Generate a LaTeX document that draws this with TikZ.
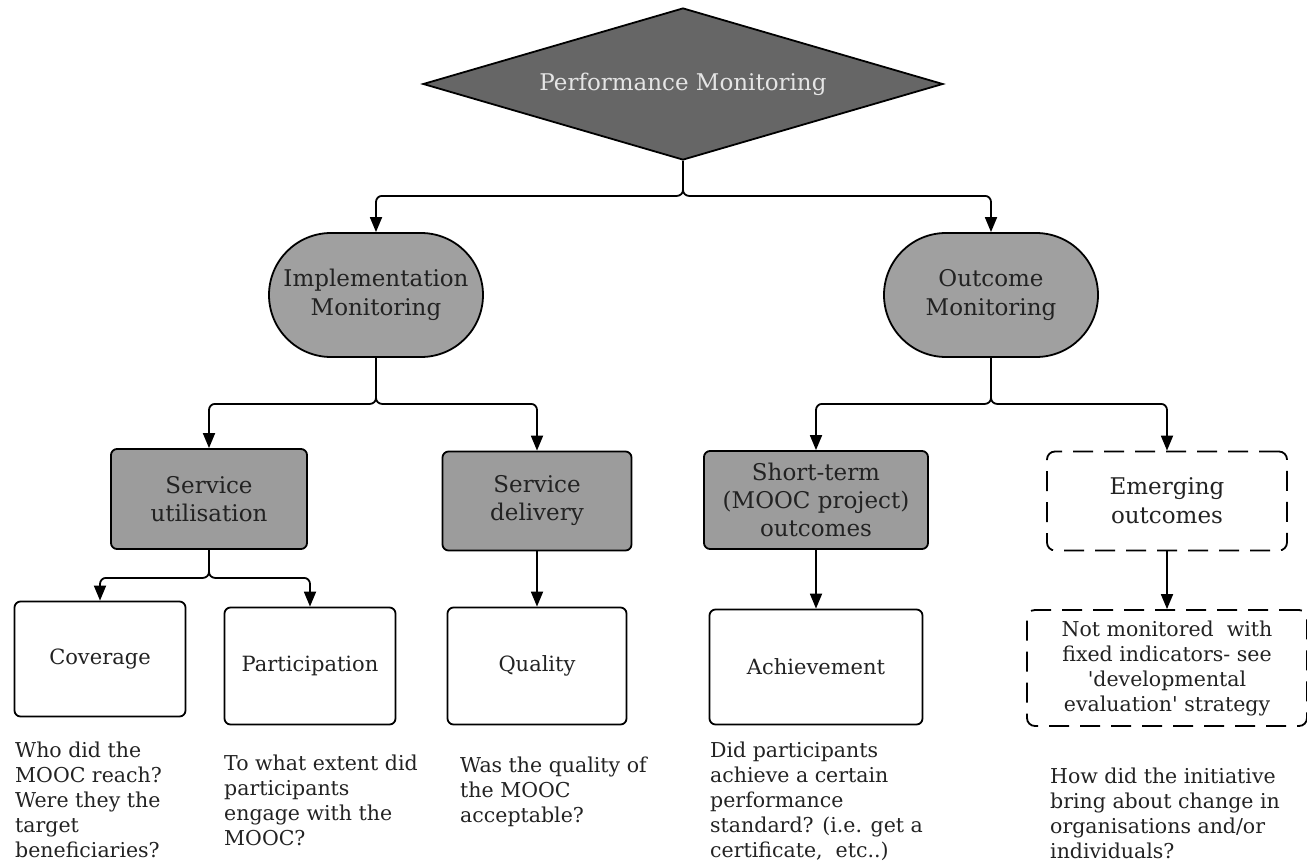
\documentclass[tikz,border=0pt]{standalone}
\usepackage{fontspec}
\setmainfont{DejaVu Serif}[Ligatures=TeXOff]
\usetikzlibrary{shapes.geometric,shapes.misc,arrows.meta,calc}

\definecolor{darkfill}{HTML}{666666}
\definecolor{midfill}{HTML}{A0A0A0}
\definecolor{boxfill}{HTML}{9C9C9C}
\definecolor{inktext}{HTML}{222222}

\tikzset{
  base/.style={draw=black, line width=1.8pt, text=inktext, align=center,
    font=\fontsize{21}{29}\selectfont},
  topdiamond/.style={base, diamond, fill=darkfill, text=white!90!black,
    minimum width=520pt, minimum height=152pt, aspect=3.4, inner sep=0pt,
    font=\fontsize{23}{29}\selectfont},
  stadium/.style={base, rounded rectangle, fill=midfill,
    minimum width=222pt, minimum height=124pt, inner xsep=4pt,
    font=\fontsize{23}{29}\selectfont},
  greybox/.style={base, rectangle, rounded corners=6pt, fill=boxfill,
    font=\fontsize{23}{28}\selectfont},
  whitebox/.style={base, rectangle, rounded corners=6pt, fill=white},
  dashbox/.style={base, rectangle, rounded corners=8pt, fill=white,
    dash pattern=on 20pt off 11pt},
  question/.style={anchor=north west, align=left, text=inktext,
    font=\fontsize{20.5}{25}\selectfont, inner sep=0pt},
  link/.style={line width=1.8pt, rounded corners=6pt,
    -{Triangle[width=12pt,length=15pt]}},
}

\begin{document}
\begin{tikzpicture}[x=1pt,y=-1pt]
\useasboundingbox (0,0) rectangle (1307,867);

% top level
\node[topdiamond] (perf) at (683,84) {Performance Monitoring};

% second level
\node[stadium] (impl) at (376,295) {Implementation\\Monitoring};
\node[stadium] (outc) at (991,295) {Outcome\\Monitoring};

% third level
\node[greybox, minimum width=196pt, minimum height=100pt] (util) at (209,499) {Service\\utilisation};
\node[greybox, minimum width=189pt, minimum height=99pt] (deliv) at (537,501) {Service\\delivery};
\node[greybox, minimum width=224pt, minimum height=98pt, inner sep=2pt] (short) at (816,500) {Short-term\\(MOOC project)\\outcomes};
\node[dashbox, minimum width=240pt, minimum height=99pt, font=\fontsize{23}{29}\selectfont] (emerg) at (1167,501) {Emerging\\outcomes};

% fourth level
\node[whitebox, minimum width=171pt, minimum height=115pt] (cov) at (100,659) {Coverage};
\node[whitebox, minimum width=171pt, minimum height=117pt] (part) at (310,666) {Participation};
\node[whitebox, minimum width=179pt, minimum height=117pt] (qual) at (537,666) {Quality};
\node[whitebox, minimum width=213pt, minimum height=115pt] (ach) at (816,667) {Achievement};
\node[dashbox, minimum width=280pt, minimum height=116pt, inner sep=1pt,
  font=\fontsize{20.5}{25}\selectfont] (notmon) at (1167,668)
  {Not monitored~ with\\fixed indicators- see\\'developmental\\evaluation' strategy};

% guiding questions
\node[question] (q1) at (15,742) {Who did the\\MOOC reach?\\Were they the\\target\\beneficiaries?};
\node[question] (q2) at (224,755) {To what extent did\\participants\\engage with the\\MOOC?};
\node[question] (q3) at (460,757) {Was the quality of\\the MOOC\\acceptable?};
\node[question] (q4) at (710,742) {Did participants\\achieve a certain\\performance\\standard? (i.e. get a\\certificate,~ etc..)};
\node[question] (q5) at (1050,768) {How did the initiative\\bring about change in\\organisations and/or\\individuals?};

% connectors
\draw[link] (perf.south) -- ($(perf.south)+(0,35)$) -| (impl.north);
\draw[link] (perf.south) -- ($(perf.south)+(0,35)$) -| (outc.north);

\draw[link] (impl.south) -- ($(impl.south)+(0,46)$) -| (util.north);
\draw[link] (impl.south) -- ($(impl.south)+(0,46)$) -| (deliv.north);

\draw[link] (outc.south) -- ($(outc.south)+(0,46)$) -| (short.north);
\draw[link] (outc.south) -- ($(outc.south)+(0,46)$) -| (emerg.north);

\draw[link] (util.south) -- ($(util.south)+(0,28)$) -| (cov.north);
\draw[link] (util.south) -- ($(util.south)+(0,28)$) -| (part.north);

\draw[link] (deliv.south) -- (qual.north);
\draw[link] (short.south) -- (ach.north);
\draw[link] (emerg.south) -- (notmon.north);
\end{tikzpicture}
\end{document}
